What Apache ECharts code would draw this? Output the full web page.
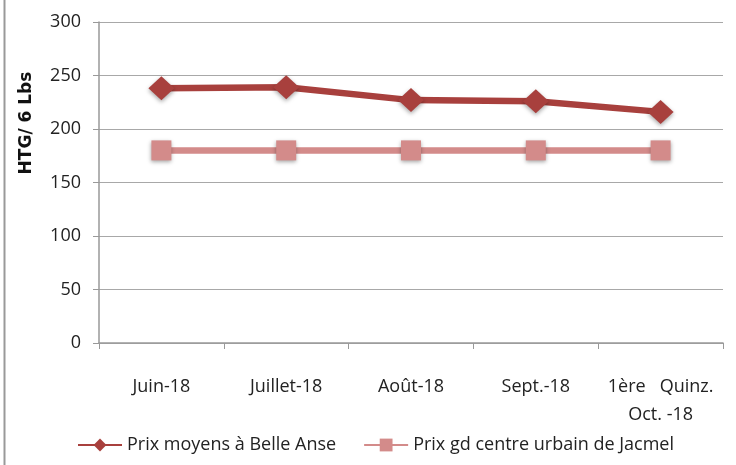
<!DOCTYPE html>
<html style="height: 100%">
<head>
<meta charset="utf-8">
</head>
<body style="height: 100%; margin: 0; background: #fff">
<div id="container" style="width: 736px; height: 465px"></div>
<script type="text/javascript" src="https://cdn.jsdelivr.net/npm/echarts@6/dist/echarts.min.js"></script>
<script type="text/javascript">
var categories = ['Juin-18', 'Juillet-18', 'Août-18', 'Sept.-18', '1ère   Quinz.\nOct. -18'];
var belleAnse = [238, 239, 227, 226, 216];
var jacmel = [180, 180, 180, 180, 180];
var seriesNames = ['Prix moyens à Belle Anse', 'Prix gd centre urbain de Jacmel'];
var yTitle = 'HTG/ 6 Lbs';

var dom = document.getElementById('container');
var myChart = echarts.init(dom);

var labelFont = 'Open Sans, Liberation Sans, sans-serif';

var option = {
    animation: false,
    grid: { left: 99, right: 13, top: 22, bottom: 122 },
    graphic: [{
        type: 'line',
        shape: { x1: 4.5, y1: 0, x2: 4.5, y2: 465 },
        style: { stroke: '#999', lineWidth: 2 }
    }, {
        // axis title sits above the plot middle in the original
        type: 'text',
        x: 27, y: 123,
        rotation: Math.PI / 2,
        style: {
            text: yTitle,
            font: 'bold 17px DejaVu Sans',
            fill: '#111',
            align: 'center',
            verticalAlign: 'middle'
        }
    }],
    legend: {
        bottom: 6,
        left: 72,
        itemWidth: 44,
        itemHeight: 16,
        itemGap: 27,
        textStyle: { fontSize: 18, color: '#222', fontFamily: labelFont },
        data: seriesNames
    },
    xAxis: {
        type: 'category',
        data: categories,
        boundaryGap: true,
        axisLine: { lineStyle: { color: '#999', width: 1.5 } },
        axisTick: { show: true, length: 6, lineStyle: { color: '#999' } },
        axisLabel: { fontSize: 18, color: '#222', margin: 30, lineHeight: 28, fontFamily: labelFont, interval: 0 }
    },
    yAxis: {
        type: 'value',
        min: 0, max: 300, interval: 50,
        axisLine: { show: true, lineStyle: { color: '#999', width: 1.5 } },
        axisTick: { show: true, length: 6, lineStyle: { color: '#999' } },
        splitLine: { lineStyle: { color: '#a8a8a8', width: 1 } },
        axisLabel: { fontSize: 18, color: '#222', margin: 18, fontFamily: labelFont }
    },
    series: [{
        name: seriesNames[0],
        type: 'line',
        data: belleAnse,
        symbol: 'diamond',
        symbolSize: [26, 24],
        lineStyle: { color: '#a8403d', width: 6.5 },
        itemStyle: { color: '#a8403d', shadowColor: 'rgba(0,0,0,0.35)', shadowBlur: 4, shadowOffsetY: 2 }
    }, {
        name: seriesNames[1],
        type: 'line',
        data: jacmel,
        symbol: 'rect',
        symbolSize: 20,
        lineStyle: { color: '#d38b8a', width: 6.5 },
        itemStyle: { color: '#d38b8a', shadowColor: 'rgba(0,0,0,0.35)', shadowBlur: 4, shadowOffsetY: 2 }
    }]
};

myChart.setOption(option);
</script>
</body>
</html>
